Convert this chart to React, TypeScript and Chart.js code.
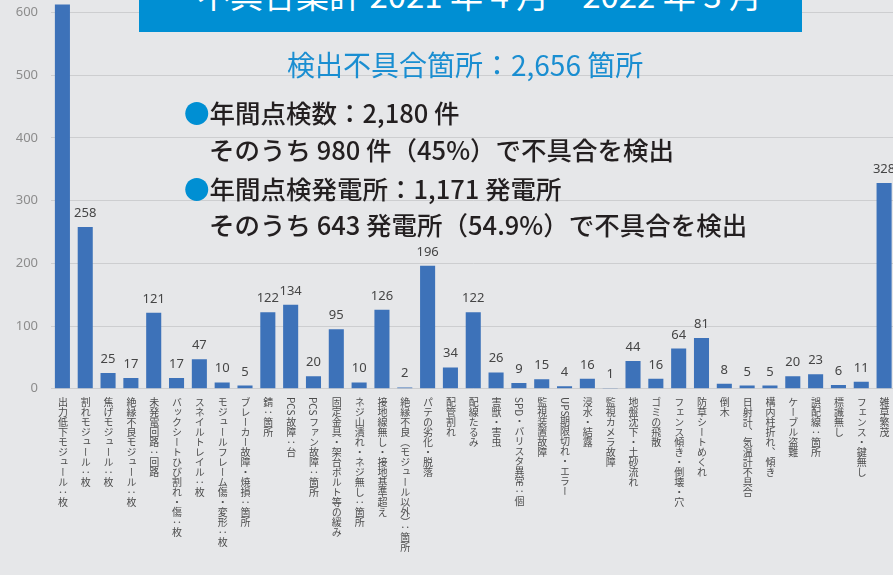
import React, { useEffect, useRef, useState } from "react";
import { Chart, registerables } from "chart.js";

Chart.register(...registerables);

const categories: string[] = [
  "出力低下モジュール：枚",
  "割れモジュール：枚",
  "焦げモジュール：枚",
  "絶縁不良モジュール：枚",
  "未発電回路：回路",
  "バックシートひび割れ・傷：枚",
  "スネイルトレイル：枚",
  "モジュールフレーム傷・変形：枚",
  "ブレーカー故障・焼損：箇所",
  "錆：箇所",
  "PCS 故障：台",
  "PCS ファン故障：箇所",
  "固定金具・架台ボルト等の緩み",
  "ネジ山潰れ・ネジ無し：箇所",
  "接地線無し・接地基準超え",
  "絶縁不良（モジュール以外）：箇所",
  "パテの劣化・脱落",
  "配管割れ",
  "配線たるみ",
  "害獣・害虫",
  "SPD・バリスタ異常：個",
  "監視装置故障",
  "UPS期限切れ・エラー",
  "浸水・結露",
  "監視カメラ故障",
  "地盤沈下・土砂流れ",
  "ゴミの飛散",
  "フェンス傾き・倒壊・穴",
  "防草シートめくれ",
  "倒木",
  "日射計、気温計不具合",
  "構内柱折れ、傾き",
  "ケーブル盗難",
  "誤配線：箇所",
  "標識無し",
  "フェンス・鍵無し",
  "雑草繁茂",
];

const counts: number[] = [
  613, 258, 25, 17, 121, 17, 47, 10, 5, 122, 134, 20, 95, 10, 126, 2, 196, 34,
  122, 26, 9, 15, 4, 16, 1, 44, 16, 64, 81, 8, 5, 5, 20, 23, 6, 11, 328,
];

const yTickValues: number[] = [0, 100, 200, 300, 400, 500, 600];

const titleText = "不具合集計 2021 年 4 月～2022 年 3 月";
const subtitleText = "検出不具合箇所：2,656 箇所";
const infoLines: { bullet: boolean; text: string }[] = [
  { bullet: true, text: "年間点検数：2,180 件" },
  { bullet: false, text: "そのうち 980 件（45%）で不具合を検出" },
  { bullet: true, text: "年間点検発電所：1,171 発電所" },
  { bullet: false, text: "そのうち 643 発電所（54.9%）で不具合を検出" },
];

const JP = "'Noto Sans CJK JP', 'Noto Sans', sans-serif";
const BG = "#e6e7e9";
const BAR = "#3d72b9";
const BLUE = "#008fd3";

const valueLabelPlugin = {
  id: "valueLabels",
  afterDatasetsDraw(chart: any) {
    const ctx = chart.ctx;
    const meta = chart.getDatasetMeta(0);
    ctx.save();
    ctx.font = "13px 'Noto Sans', sans-serif";
    ctx.fillStyle = "#454545";
    ctx.textAlign = "center";
    ctx.textBaseline = "alphabetic";
    meta.data.forEach((bar: any, i: number) => {
      const v = chart.data.datasets[0].data[i];
      ctx.fillText(String(v), bar.x, bar.y - 10);
    });
    ctx.restore();
  },
};

export default function App() {
  const canvasRef = useRef<HTMLCanvasElement>(null);
  const [xs, setXs] = useState<number[]>([]);

  useEffect(() => {
    document.documentElement.style.overflow = "hidden";
    document.body.style.margin = "0";
    document.body.style.background = BG;
    const canvas = canvasRef.current!;
    const chart = new Chart(canvas, {
      type: "bar",
      data: {
        labels: categories,
        datasets: [
          {
            data: counts,
            backgroundColor: BAR,
            borderWidth: 0,
            categoryPercentage: 1,
            barPercentage: 0.66,
          },
        ],
      },
      options: {
        responsive: false,
        animation: false,
        layout: { padding: { left: 0, right: 4.5, top: 0, bottom: 0 } },
        plugins: {
          legend: { display: false },
          tooltip: { enabled: false },
          title: { display: false },
        },
        scales: {
          x: {
            grid: { display: false },
            border: { display: false },
            ticks: { display: false },
            afterFit: (s: any) => {
              s.height = 575 - 388.7;
              s.paddingLeft = 0;
              s.paddingRight = 0;
            },
          },
          y: {
            min: 0,
            max: 620,
            afterBuildTicks: (s: any) => {
              s.ticks = yTickValues.map((v) => ({ value: v }));
            },
            ticks: {
              stepSize: 100,
              includeBounds: false,
              color: "#8c8c8c",
              padding: 13,
              font: { size: 13, family: "'Noto Sans', sans-serif" },
            },
            grid: { color: "#cdced0", lineWidth: 1, drawTicks: false },
            border: { display: false },
            afterFit: (s: any) => {
              s.width = 51;
              s.paddingTop = 0;
              s.paddingBottom = 0;
            },
          },
        },
      },
      plugins: [valueLabelPlugin],
    });
    const xScale = chart.scales.x;
    setXs(categories.map((_, i) => xScale.getPixelForValue(i)));
    return () => chart.destroy();
  }, []);

  return (
    <div
      style={{
        position: "fixed",
        left: 0,
        top: 0,
        width: "100vw",
        height: "100vh",
        overflow: "hidden",
        background: BG,
      }}
    >
      <canvas
        ref={canvasRef}
        width={900}
        height={575}
        style={{ position: "absolute", left: 0, top: 0, width: 900, height: 575 }}
      />
      {xs.map((x, i) => (
        <div
          key={i}
          style={{
            position: "absolute",
            left: x,
            top: 397,
            transform: "translateX(-50%)",
            writingMode: "vertical-rl",
            fontFamily: JP,
            fontSize: 10,
            lineHeight: "12px",
            color: "#4d4d4d",
            whiteSpace: "nowrap",
          }}
        >
          {categories[i]}
        </div>
      ))}
      <div
        style={{
          position: "absolute",
          left: 139,
          top: 0,
          width: 663,
          height: 32,
          background: BLUE,
          overflow: "hidden",
        }}
      >
        <div
          style={{
            position: "absolute",
            left: 58,
            top: -22,
            lineHeight: "33px",
            fontSize: 33,
            fontFamily: JP,
            color: "#ffffff",
            whiteSpace: "nowrap",
          }}
        >
          {titleText}
        </div>
      </div>
      <div
        style={{
          position: "absolute",
          left: 287,
          top: 49,
          lineHeight: "30px",
          fontSize: 28,
          fontFamily: JP,
          color: "#1a8ed1",
          whiteSpace: "nowrap",
        }}
      >
        {subtitleText}
      </div>
      {infoLines.map((ln, i) => (
        <div
          key={i}
          style={{
            position: "absolute",
            left: ln.bullet ? 184 : 209,
            top: [97, 134, 173, 209][i],
            lineHeight: "30px",
            fontSize: 25.5,
            fontWeight: 500,
            fontFamily: JP,
            color: "#231f20",
            whiteSpace: "nowrap",
          }}
        >
          {ln.bullet && <span style={{ color: BLUE }}>●</span>}
          {ln.text}
        </div>
      ))}
    </div>
  );
}
